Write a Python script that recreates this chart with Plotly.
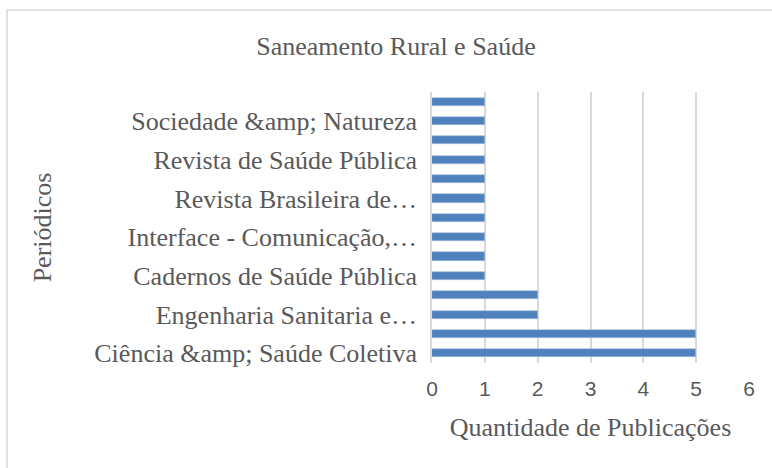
import plotly.graph_objects as go

# Category labels as displayed (Excel shows every other label); hidden ones are blank
categories = [
    "Ciência &amp;amp; Saúde Coletiva",
    "",
    "Engenharia Sanitaria e…",
    "",
    "Cadernos de Saúde Pública",
    "",
    "Interface - Comunicação,…",
    "",
    "Revista Brasileira de…",
    "",
    "Revista de Saúde Pública",
    "",
    "Sociedade &amp;amp; Natureza",
    "",
]
values = [5, 5, 2, 2, 1, 1, 1, 1, 1, 1, 1, 1, 1, 1]
x_ticks = [0, 1, 2, 3, 4, 5, 6]

positions = list(range(len(categories)))
shown = [p for p, c in zip(positions, categories) if c]
shown_text = [c for c in categories if c]

serif = "Liberation Serif, Times New Roman, serif"
sans = "Liberation Sans, Arial, sans-serif"
grey = "#595959"

L, R, T, B = 432, 749, 92, 363
W, H = 772, 468

fig = go.Figure(go.Bar(
    x=values, y=positions, orientation="h",
    marker=dict(color="#4f81bd", line=dict(color="#a7bfde", width=0.6)),
    width=0.42,
))

fig.update_layout(
    width=W, height=H,
    margin=dict(l=L, r=W - R, t=T, b=H - B, autoexpand=False),
    paper_bgcolor="white", plot_bgcolor="white",
    title=dict(text="Saneamento Rural e Saúde", x=396 / W, xanchor="center",
               y=1 - 46 / H, yanchor="middle", xref="container", yref="container",
               font=dict(family=serif, size=26, color=grey)),
    showlegend=False,
    bargap=0,
)

fig.update_xaxes(
    range=[0, 6], tickvals=x_ticks, showgrid=True, gridcolor="#d9d9d9", gridwidth=1.5,
    zeroline=False, showline=False, automargin=False,
    tickfont=dict(family=sans, size=21, color=grey),
    title=dict(text="Quantidade de Publicações", font=dict(family=serif, size=26, color=grey), standoff=18),
    ticks="", ticklabelstandoff=11, fixedrange=True,
)
fig.update_yaxes(
    range=[-0.5, len(categories) - 0.5], tickmode="array", tickvals=shown, ticktext=shown_text,
    showgrid=False, zeroline=False, showline=True, linecolor="#d9d9d9", linewidth=1.5,
    automargin=False,
    tickfont=dict(family=serif, size=26, color=grey),
    title=dict(text="Periódicos", font=dict(family=serif, size=26, color=grey), standoff=35),
    ticks="", ticklen=0, ticklabelstandoff=8, fixedrange=True,
)

# chart border (Excel chart area outline)
pw, ph = R - L, B - T
fig.add_shape(type="rect", xref="paper", yref="paper",
              x0=(7 - L) / pw, x1=(800 - L) / pw,
              y0=(B - 500) / ph, y1=(B - 10) / ph,
              line=dict(color="#d9d9d9", width=1.5), fillcolor="rgba(0,0,0,0)", layer="below")

fig.write_html("out.html", config={"displayModeBar": False},
               post_script="document.body.style.margin='0';")
